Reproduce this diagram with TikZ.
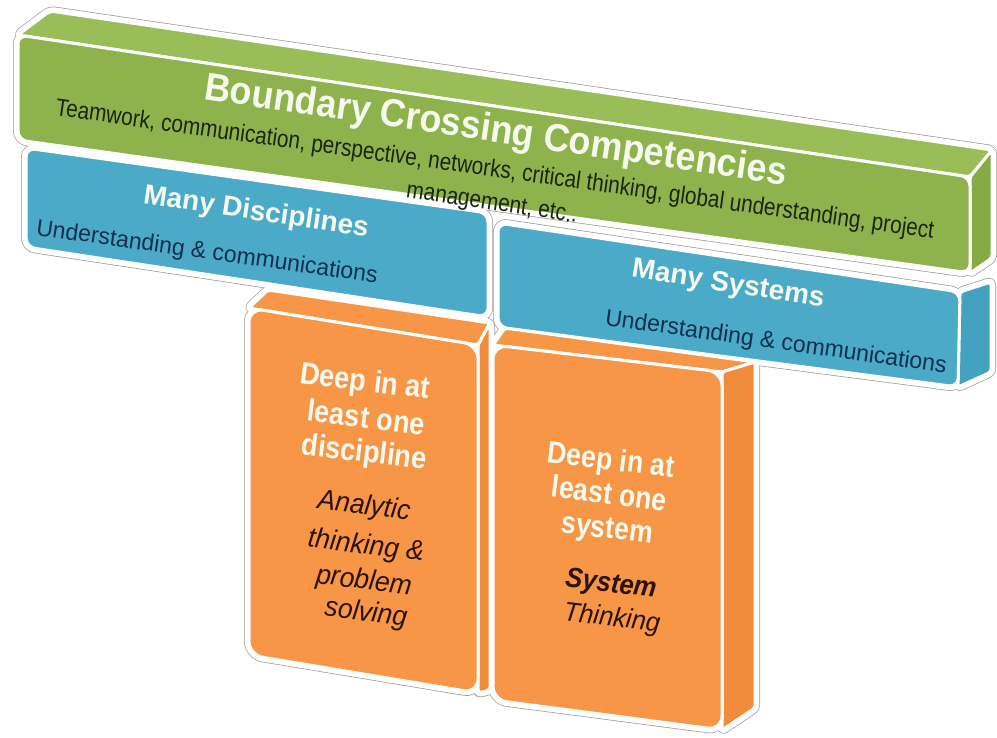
\documentclass[tikz,border=0pt]{standalone}
\usepackage{fontspec}
\usepackage{graphicx}
\setmainfont{Liberation Sans}
\definecolor{gfront}{HTML}{8FB34C}
\definecolor{gtop}{HTML}{99BD57}
\definecolor{gside}{HTML}{86AA44}
\definecolor{bfront}{HTML}{4BAAC8}
\definecolor{bside}{HTML}{44A2C0}
\definecolor{ofront}{HTML}{F79646}
\definecolor{oside}{HTML}{F08C3C}
\definecolor{navy}{HTML}{10304E}
\definecolor{darktxt}{HTML}{2A1206}
\definecolor{greenink}{HTML}{1A2410}
\definecolor{softwhite}{HTML}{F6FAEE}
\def\pGT{[rounded corners=4pt] (18,35) -- (50,11) -- (992,150) -- (970,177) -- cycle}
\def\pGS{[rounded corners=3pt] (970,177) -- (992,150) -- (992,258) -- (970,273) -- cycle}
\def\pGF{[rounded corners=9pt] (18,35) -- (970,177) -- (970,273) -- (18,140) -- cycle}
\def\pBS{[rounded corners=3pt] (960,292) -- (991,282) -- (991,372) -- (958,387) -- cycle}
\def\pBL{[rounded corners=9pt] (26,148) -- (488,213) -- (488,317) -- (26,247) -- cycle}
\def\pBR{[rounded corners=9pt] (498,223) -- (960,292) -- (958,387) -- (498,327) -- cycle}
\def\pOLT{[rounded corners=3pt] (249,308) -- (268,290) -- (490,323) -- (478,345) -- cycle}
\def\pOLS{[rounded corners=3pt] (478,345) -- (490,323) -- (490,690) -- (478,693) -- cycle}
\def\pOLF{[rounded corners=14pt] (249,308) -- (478,345) -- (478,693) -- (249,655) -- cycle}
\def\pORT{[rounded corners=3pt] (493,345) -- (505,328) -- (755,362) -- (722,372) -- cycle}
\def\pORS{[rounded corners=3pt] (722,372) -- (755,362) -- (755,708) -- (722,730) -- cycle}
\def\pORF{[rounded corners=14pt] (493,345) -- (722,372) -- (722,730) -- (493,700) -- cycle}
\newcommand\allfaces[1]{%
  \path[#1] \pGT; \path[#1] \pGS; \path[#1] \pGF;
  \path[#1] \pBS; \path[#1] \pBL; \path[#1] \pBR;
  \path[#1] \pOLT; \path[#1] \pOLS; \path[#1] \pOLF;
  \path[#1] \pORT; \path[#1] \pORS; \path[#1] \pORF;}
\newcommand\narrow[2]{\scalebox{#1}[1]{#2}}
\begin{document}
\begin{tikzpicture}[x=1pt,y=-1pt,
  halogray/.style={draw=black!40, line width=10pt, line join=round},
  halowhite/.style={draw=white, fill=white, line width=8.6pt, line join=round},
  face/.style={draw=white, line width=3pt, line join=round},
  lbl/.style={inner sep=0pt, anchor=base},
  titletxt/.style={lbl, text=softwhite, font=\bfseries\fontsize{39}{43}\selectfont},
  subtxt/.style={lbl, text=greenink, font=\fontsize{24.5}{28}\selectfont},
  headtxt/.style={lbl, text=softwhite, font=\bfseries\fontsize{28}{32}\selectfont},
  bluetxt/.style={lbl, text=navy, font=\fontsize{23.5}{27}\selectfont},
  deeptxt/.style={lbl, text=softwhite, font=\bfseries\fontsize{31}{34}\selectfont, rotate=-7},
  darkit/.style={lbl, text=darktxt, font=\itshape\fontsize{28}{32}\selectfont, rotate=-7}]
\useasboundingbox (0,0) rectangle (997,738);
% outer halo
\allfaces{halogray}
\allfaces{halowhite}
% faces
\path[face, fill=gtop] \pGT;
\path[face, fill=gside] \pGS;
\path[face, fill=gfront] \pGF;
\path[face, fill=ofront] \pOLT;
\path[face, fill=oside] \pOLS;
\path[face, fill=ofront] \pORT;
\path[face, fill=oside] \pORS;
\path[face, fill=bside] \pBS;
\path[face, fill=bfront] \pBL;
\path[face, fill=bfront] \pBR;
\path[face, fill=ofront] \pOLF;
\path[face, fill=ofront] \pORF;
% green bar texts
\node[titletxt, rotate=-8.4] (title) at (494,142) {\narrow{0.92}{Boundary Crossing Competencies}};
\node[subtxt, rotate=-8.0] (sub1) at (494,177) {\narrow{0.85}{Teamwork, communication, perspective, networks, critical thinking, global understanding, project}};
\node[subtxt, rotate=-8.5] (sub2) at (491,210) {\narrow{0.85}{management, etc..}};
% blue bar texts
\node[headtxt, rotate=-8.5] (mdis) at (255,220) {Many Disciplines};
\node[bluetxt, rotate=-8.0] (udis) at (206,259) {\narrow{0.98}{Understanding \& communications}};
\node[headtxt, rotate=-9.0] (msys) at (727,292) {Many Systems};
\node[bluetxt, rotate=-8.0] (usys) at (775,349) {\narrow{0.98}{Understanding \& communications}};
% left orange box texts
\node[deeptxt] (d1) at (364,391) {\narrow{0.88}{Deep in at}};
\node[deeptxt] (d2) at (365,428) {\narrow{0.88}{least one}};
\node[deeptxt] (d3) at (363,462) {\narrow{0.88}{discipline}};
\node[darkit] (a1) at (363,514) {\narrow{0.95}{Analytic}};
\node[darkit] (a2) at (365,554) {\narrow{0.95}{thinking \&}};
\node[darkit] (a3) at (363,589) {\narrow{0.95}{problem}};
\node[darkit] (a4) at (365,621) {\narrow{0.95}{solving}};
% right orange box texts
\node[deeptxt] (e1) at (610,470) {\narrow{0.86}{Deep in at}};
\node[deeptxt] (e2) at (608,504) {\narrow{0.86}{least one}};
\node[deeptxt] (e3) at (606,538) {\narrow{0.86}{system}};
\node[darkit, font=\bfseries\itshape\fontsize{28}{32}\selectfont] (s1) at (610,592) {\narrow{0.92}{System}};
\node[darkit, font=\itshape\fontsize{27}{32}\selectfont] (s2) at (611,626) {\narrow{0.95}{Thinking}};
\end{tikzpicture}
\end{document}
